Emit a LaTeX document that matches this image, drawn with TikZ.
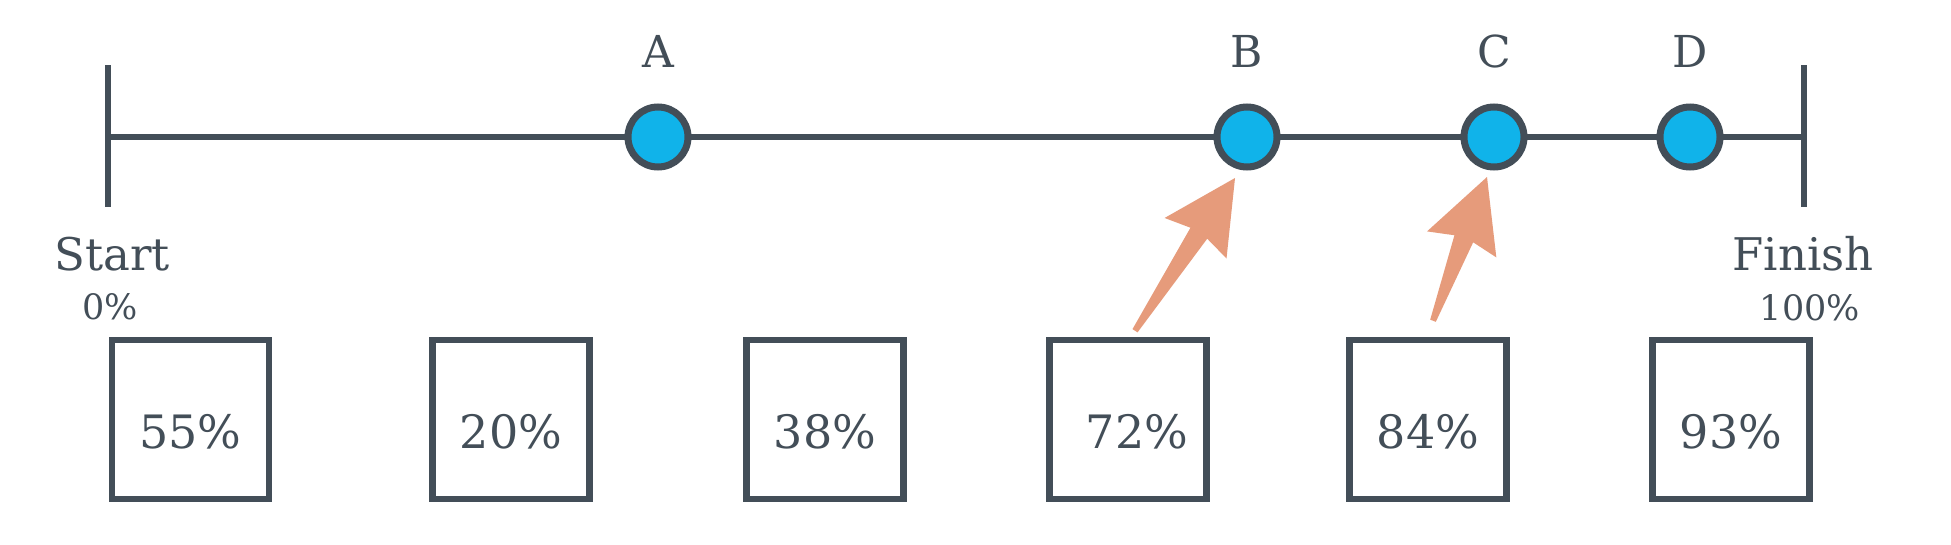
\documentclass[tikz,border=0pt]{standalone}
\usepackage{fontspec}
\setmainfont{DejaVu Serif}
\usetikzlibrary{calc}
\definecolor{ink}{HTML}{434E58}
\definecolor{dotblue}{HTML}{10B3EA}
\definecolor{salmon}{HTML}{E69B7B}
\newcommand\fatarrow[2]{%
  \coordinate (fa-h) at ($(#2)!66pt!(#1)$);
  \coordinate (fa-b) at ($(#2)!72pt!(#1)$);
  \fill[salmon] ($(#1)!3pt!90:(#2)$) -- ($(fa-h)!10pt!90:(#2)$) -- ($(fa-b)!37pt!90:(#2)$) -- (#2)
    -- ($(fa-b)!37pt!-90:(#2)$) -- ($(fa-h)!10pt!-90:(#2)$) -- ($(#1)!3pt!-90:(#2)$) -- cycle;}
\tikzset{
  rail/.style={draw=ink, line width=6pt},
  dot/.style={circle, draw=ink, fill=dotblue, line width=7pt, minimum size=60pt, inner sep=0pt},
  pctbox/.style={rectangle, draw=ink, line width=6.5pt, minimum width=157pt, minimum height=159pt,
    inner sep=0pt, text=ink, font=\fontsize{46}{55}\selectfont, text height=57pt, text depth=0pt},
  letter/.style={text=ink, font=\fontsize{44}{52}\selectfont, anchor=base, inner sep=0pt},
  endword/.style={text=ink, font=\fontsize{45}{54}\selectfont, anchor=base, inner sep=0pt},
  endpct/.style={text=ink, font=\fontsize{35}{42}\selectfont, anchor=base, inner sep=0pt},
}
\begin{document}
\begin{tikzpicture}[x=1pt, y=-1pt]
\fill[white] (0,0) rectangle (1951,544);
\useasboundingbox (0,0) rectangle (1951,544);
% rail
\coordinate (s) at (108,137);
\coordinate (f) at (1804,137);
\coordinate (s-top) at (108,65);
\coordinate (s-bot) at (108,207);
\coordinate (f-top) at (1804,65);
\coordinate (f-bot) at (1804,207);
\draw[rail] (s) -- (f);
\draw[rail] (s-top) -- (s-bot);
\draw[rail] (f-top) -- (f-bot);
% dots
\node[dot] (A) at (658,137) {};
\node[dot] (B) at (1247,137) {};
\node[dot] (C) at (1494,137) {};
\node[dot] (D) at (1690,137) {};
\node[letter] (lA) at (658,67) {A};
\node[letter] (lB) at (1247,67) {B};
\node[letter] (lC) at (1494,67) {C};
\node[letter] (lD) at (1690,67) {D};
% end labels
\node[endword] (start) at (112,270) {Start};
\node[endpct] (p0) at (110,319) {0\%};
\node[endword] (finish) at (1803,270) {Finish};
\node[endpct] (p100) at (1810,320) {100\%};
% boxes
\node[pctbox] (b1) at (190.5,419.5) {55\%};
\node[pctbox] (b2) at (511,419.5) {20\%};
\node[pctbox] (b3) at (825,419.5) {38\%};
\node[pctbox] (b4) at (1128,419.5) {\hspace*{18pt}72\%};
\node[pctbox] (b5) at (1428,419.5) {84\%};
\node[pctbox] (b6) at (1731,419.5) {93\%};
% arrows
\coordinate (t1) at ($(b4.north)+(7,-6)$);
\coordinate (h1) at ($(B)+(-12,41)$);
\coordinate (t2) at ($(b5.north)+(5,-16)$);
\coordinate (h2) at ($(C)+(-7,40)$);
\fatarrow{t1}{h1}
\fatarrow{t2}{h2}
\end{tikzpicture}
\end{document}
